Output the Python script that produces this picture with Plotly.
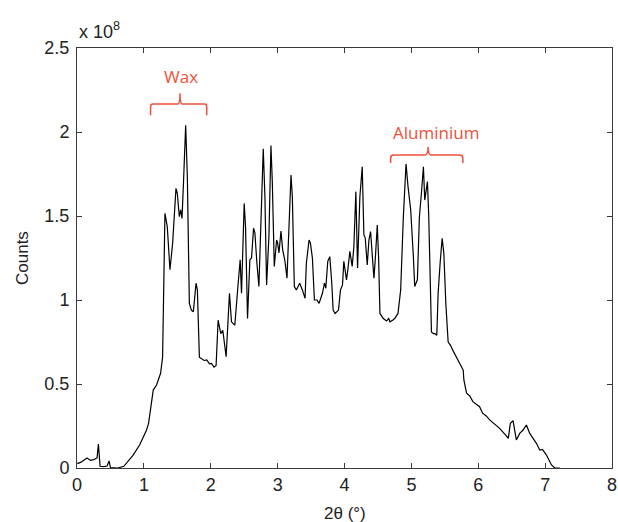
import plotly.graph_objects as go

# 2-theta (degrees)
two_theta = [0.00, 0.02, 0.06, 0.10, 0.15, 0.20, 0.25, 0.30, 0.32, 0.345, 0.40, 0.45, 0.48, 0.50, 0.55, 0.61,
             0.70, 0.84, 0.94, 1.04, 1.07, 1.14, 1.19, 1.25, 1.28, 1.315, 1.35, 1.39, 1.43, 1.48, 1.50,
             1.53, 1.55, 1.57, 1.59, 1.625, 1.65, 1.68, 1.71, 1.74, 1.78, 1.80, 1.83, 1.86, 1.90, 1.94,
             1.98, 2.01, 2.05, 2.08, 2.11, 2.15, 2.18, 2.23, 2.28, 2.31, 2.36, 2.41, 2.44, 2.46, 2.50,
             2.52, 2.55, 2.585, 2.61, 2.64, 2.66, 2.69, 2.72, 2.75, 2.785, 2.81, 2.835, 2.87, 2.90,
             2.92, 2.95, 2.985, 3.00, 3.02, 3.05, 3.075, 3.11, 3.14, 3.17, 3.20, 3.22, 3.25, 3.28,
             3.31, 3.33, 3.37, 3.41, 3.43, 3.47, 3.49, 3.52, 3.55, 3.59, 3.62, 3.67, 3.70, 3.72, 3.75,
             3.78, 3.81, 3.83, 3.86, 3.91, 3.94, 3.97, 3.99, 4.03, 4.05, 4.08, 4.115, 4.14, 4.17,
             4.195, 4.23, 4.265, 4.29, 4.31, 4.34, 4.365, 4.39, 4.415, 4.44, 4.46, 4.49, 4.51, 4.53,
             4.58, 4.61, 4.63, 4.66, 4.68, 4.72, 4.75, 4.80, 4.84, 4.88, 4.92, 4.95, 4.99, 5.03, 5.05,
             5.09, 5.12, 5.15, 5.18, 5.20, 5.24, 5.26, 5.30, 5.33, 5.35, 5.38, 5.40, 5.43, 5.46, 5.485,
             5.515, 5.55, 5.585, 5.62, 5.675, 5.72, 5.775, 5.785, 5.825, 5.87, 5.92, 5.97, 6.02, 6.065,
             6.12, 6.17, 6.25, 6.32, 6.40, 6.45, 6.48, 6.52, 6.57, 6.62, 6.67, 6.72, 6.77, 6.80, 6.87,
             6.92, 6.96, 7.02, 7.06, 7.095, 7.145, 7.22]

# Counts (x 10^8)
counts = [0.030, 0.028, 0.035, 0.045, 0.060, 0.045, 0.050, 0.060, 0.143, 0.010, 0.008, 0.012, 0.042, 0.003, 0.000, 0.000,
          0.010, 0.077, 0.140, 0.226, 0.266, 0.464, 0.494, 0.564, 0.660, 1.516, 1.436, 1.180, 1.337, 1.665, 1.635,
          1.496, 1.536, 1.486, 1.675, 2.040, 1.734, 0.980, 0.940, 0.930, 1.100, 1.060, 0.660, 0.653, 0.640, 0.643,
          0.620, 0.623, 0.600, 0.610, 0.880, 0.800, 0.820, 0.663, 1.040, 0.870, 0.850, 1.100, 1.240, 1.040, 1.575,
          1.436, 0.890, 1.240, 1.250, 1.427, 1.400, 1.220, 1.080, 1.456, 1.900, 1.615, 1.090, 1.380, 1.920,
          1.710, 1.200, 1.357, 1.340, 1.280, 1.410, 1.300, 1.230, 1.130, 1.417, 1.744, 1.615, 1.080, 1.060,
          1.080, 1.100, 1.060, 1.010, 1.220, 1.357, 1.340, 1.250, 1.000, 1.000, 0.980, 1.040, 1.100, 1.070, 1.230,
          1.258, 1.100, 0.940, 0.920, 0.940, 1.060, 1.090, 1.230, 1.120, 1.180, 1.290, 1.200, 1.317, 1.645,
          1.190, 1.615, 1.793, 1.387, 1.370, 1.208, 1.357, 1.407, 1.290, 1.130, 1.240, 1.446, 1.250, 0.920,
          0.890, 0.880, 0.875, 0.890, 0.870, 0.880, 0.890, 0.920, 1.060, 1.496, 1.810, 1.675, 1.536, 1.258, 1.080,
          1.120, 1.496, 1.635, 1.793, 1.595, 1.705, 1.496, 0.810, 0.800, 0.800, 0.790, 1.040, 1.220, 1.367, 1.280,
          0.980, 0.750, 0.730, 0.700, 0.660, 0.620, 0.583, 0.524, 0.445, 0.430, 0.395, 0.380, 0.365, 0.326,
          0.310, 0.286, 0.260, 0.236, 0.200, 0.177, 0.266, 0.282, 0.167, 0.206, 0.226, 0.256, 0.206, 0.190, 0.147,
          0.107, 0.110, 0.077, 0.050, 0.018, 0.000, 0.000]

x_ticks = [0, 1, 2, 3, 4, 5, 6, 7, 8]
y_ticks = [0, 0.5, 1, 1.5, 2, 2.5]
y_tick_labels = ["0", "0.5", "1", "1.5", "2", "2.5"]

RED = "#F0503A"
AXC = "#3a3a3a"
FONT = "Liberation Sans, Arial, sans-serif"

fig = go.Figure()
fig.add_trace(go.Scatter(x=two_theta, y=counts, mode="lines",
                         line=dict(color="black", width=1.2), showlegend=False,
                         hoverinfo="skip"))

fig.update_layout(
    width=618, height=522,
    margin=dict(l=77, r=6, t=48, b=54, autoexpand=False),
    paper_bgcolor="white", plot_bgcolor="white",
    font=dict(family=FONT, size=17, color="#222"),
    xaxis=dict(range=[0, 8], tickvals=x_ticks, showgrid=False, zeroline=False,
               automargin=False,
               showline=True, linecolor=AXC, linewidth=1, mirror="ticks",
               ticks="inside", ticklen=5, tickcolor=AXC, tickfont=dict(size=18)),
    yaxis=dict(range=[0, 2.5], tickvals=y_ticks, ticktext=y_tick_labels,
               showgrid=False, zeroline=False, ticklabelstandoff=3, automargin=False,
               showline=True, linecolor=AXC, linewidth=1, mirror="ticks",
               ticks="inside", ticklen=5, tickcolor=AXC, tickfont=dict(size=18)),
)

annots = [
    dict(text="x 10<sup>8</sup>", xref="paper", yref="paper", x=0.0, y=1.0, yshift=18,
         xanchor="left", yanchor="middle", showarrow=False, font=dict(size=18)),
    dict(text="Counts", xref="paper", yref="paper", x=0, y=0.5, xshift=-55, textangle=-90,
         xanchor="center", yanchor="middle", showarrow=False, font=dict(size=17)),
    dict(text="2θ (°)", xref="paper", yref="paper", x=0.5, y=0, yshift=-45,
         xanchor="center", yanchor="middle", showarrow=False, font=dict(size=17)),
    dict(text="Wax", x=1.55, y=2.33, xanchor="center", yanchor="middle", showarrow=False,
         font=dict(size=17, color=RED, family="Open Sans, sans-serif")),
    dict(text="Aluminium", x=5.37, y=2.0, xanchor="center", yanchor="middle", showarrow=False,
         font=dict(size=17, color=RED, family="Open Sans, sans-serif")),
]
fig.update_layout(annotations=annots)


def brace(x0, x1, xm, ylo, yh, ytip):
    r = (x1 - x0) * 0.04
    return (f"M {x0},{ylo} L {x0},{yh - 0.02} Q {x0},{yh} {x0 + r},{yh} "
            f"L {xm - r},{yh} Q {xm},{yh} {xm},{ytip} Q {xm},{yh} {xm + r},{yh} "
            f"L {x1 - r},{yh} Q {x1},{yh} {x1},{yh - 0.02} L {x1},{ylo}")


fig.add_shape(type="path", path=brace(1.10, 1.94, 1.54, 2.10, 2.167, 2.23),
              line=dict(color=RED, width=1.5))
fig.add_shape(type="path", path=brace(4.69, 5.77, 5.25, 1.815, 1.863, 1.91),
              line=dict(color=RED, width=1.5))

fig.write_html(
    "out.html",
    config={"displayModeBar": False, "staticPlot": True},
    post_script="document.body.style.margin='0';document.documentElement.style.overflow='hidden';",
)
